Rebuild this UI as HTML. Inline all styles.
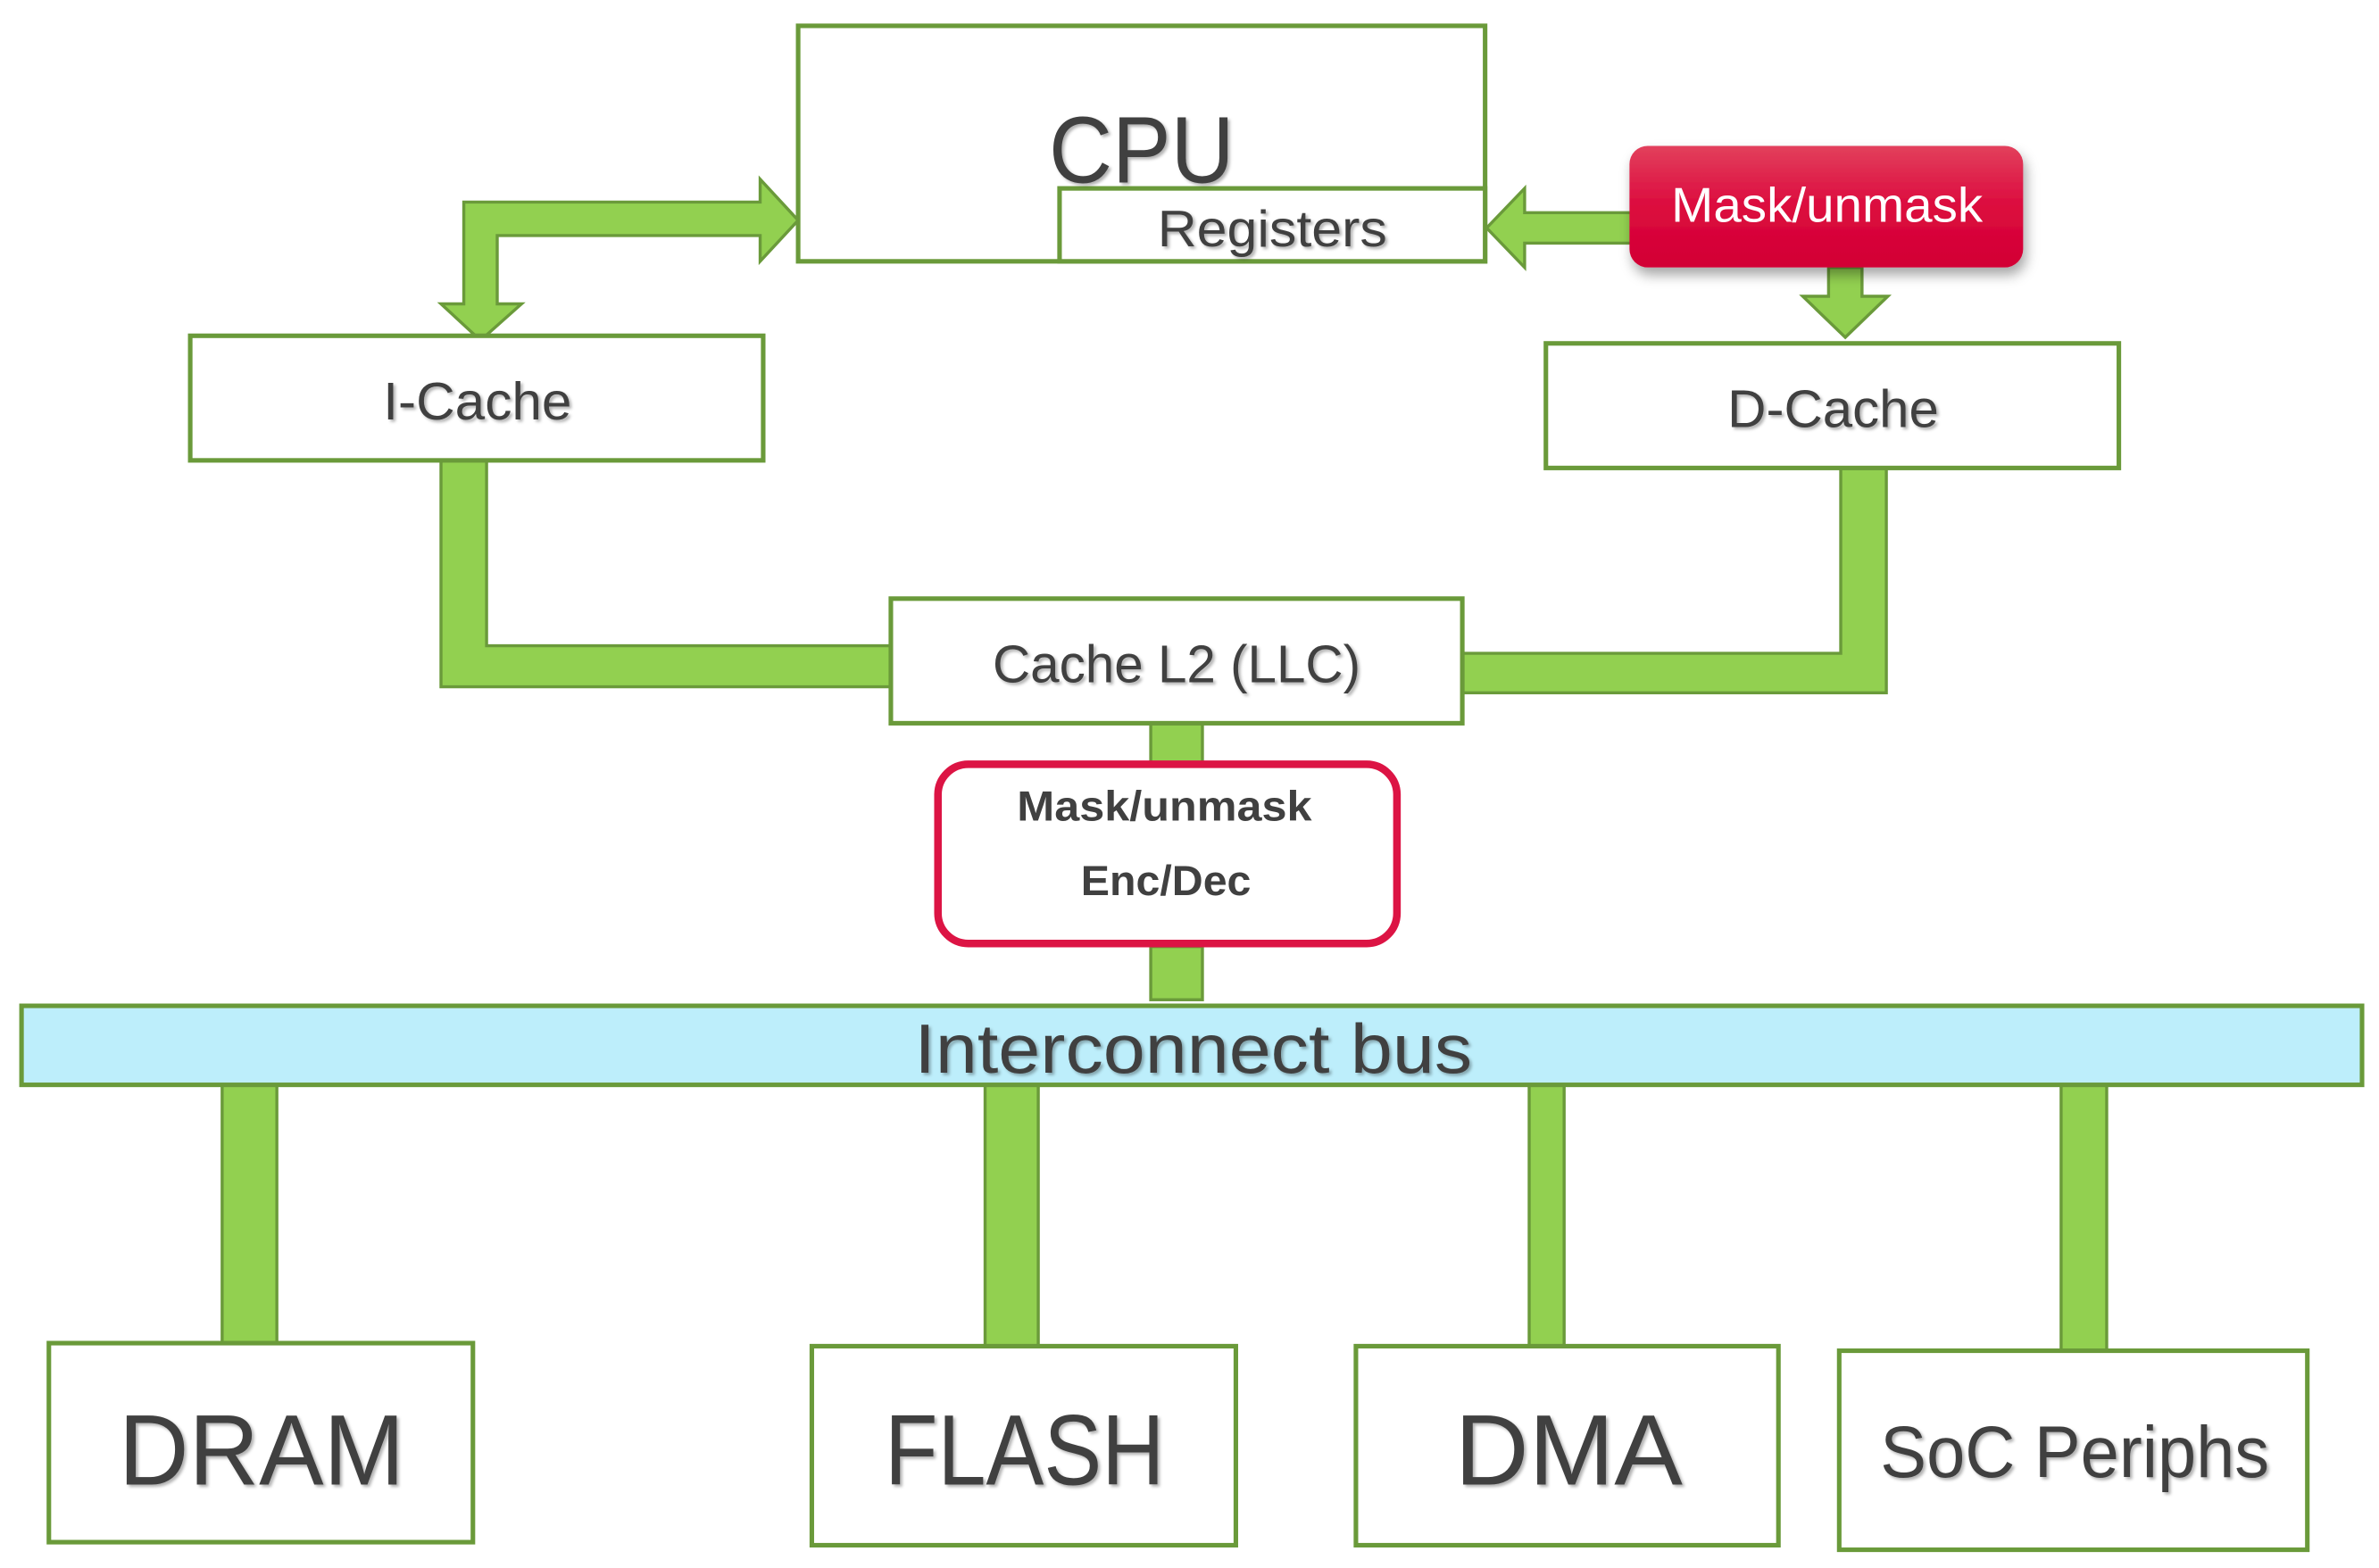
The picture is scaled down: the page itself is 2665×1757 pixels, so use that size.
<!DOCTYPE html>
<html><head><meta charset="utf-8"><style>
html,body{margin:0;padding:0;background:#fff;}
svg{display:block;}
text{font-family:"Liberation Sans",sans-serif;fill:#404040;}
</style></head><body>
<svg width="2665" height="1757" viewBox="0 0 1565 1032" xmlns="http://www.w3.org/2000/svg">
<defs>
<linearGradient id="rg" x1="0" y1="0" x2="0" y2="1">
<stop offset="0" stop-color="#e2405c"/><stop offset="0.5" stop-color="#dc0a3e"/><stop offset="1" stop-color="#d20034"/>
</linearGradient>
<filter id="sh" x="-10%" y="-20%" width="130%" height="160%"><feDropShadow dx="2" dy="5" stdDeviation="4" flood-color="#000" flood-opacity="0.35"/></filter>
<filter id="ts"><feDropShadow dx="1.5" dy="1.5" stdDeviation="1" flood-color="#000" flood-opacity="0.3"/></filter>
</defs>
<g fill="#92d050" stroke="#6a9a3a" stroke-width="2">
<!-- I-Cache double arrow -->
<polygon points="525,145 500,118 500,133 305,133 305,200 290,200 316,224 343,200 327,200 327,155 500,155 500,172"/>
<!-- left arrow to registers -->
<polygon points="978,150 1003,124 1003,140 1074,140 1074,160 1003,160 1003,176"/>
<!-- down arrow to D-cache -->
<polygon points="1203,176 1225,176 1225,195 1242,195 1214,222 1186,195 1203,195"/>
<!-- L2 connectors -->
<polygon points="290,303 320,303 320,425 586,425 586,452 290,452"/>
<polygon points="1211,308 1241,308 1241,456 962,456 962,430 1211,430"/>
<rect x="757" y="476" width="34" height="27"/>
<rect x="757" y="623" width="34" height="35"/>
<rect x="146" y="714" width="36" height="170"/>
<rect x="648" y="714" width="35" height="172"/>
<rect x="1006" y="714" width="23" height="172"/>
<rect x="1356" y="714" width="30" height="175"/>
</g>
<g fill="#fff" stroke="#6a9a3a" stroke-width="3">
<rect x="525" y="17" width="452" height="155"/>
<rect x="697" y="124" width="280" height="48"/>
<rect x="125" y="221" width="377" height="82"/>
<rect x="1017" y="226" width="377" height="82"/>
<rect x="586" y="394" width="376" height="82"/>
<rect x="14" y="662" width="1540" height="52" fill="#bdeefb"/>
<rect x="32" y="884" width="279" height="131"/>
<rect x="534" y="886" width="279" height="131"/>
<rect x="892" y="886" width="278" height="131"/>
<rect x="1210" y="889" width="308" height="131"/>
</g>
<rect x="1072" y="96" width="259" height="80" rx="12" fill="url(#rg)" filter="url(#sh)"/>
<rect x="617" y="503" width="302" height="118" rx="20" fill="#fff" stroke="#dc1444" stroke-width="5"/>
<g text-anchor="middle" filter="url(#ts)">
<text x="751" y="120" font-size="62" textLength="122" lengthAdjust="spacingAndGlyphs">CPU</text>
<text x="837" y="162" font-size="34" textLength="151" lengthAdjust="spacingAndGlyphs">Registers</text>
<text x="314" y="276" font-size="35" textLength="124" lengthAdjust="spacingAndGlyphs">I-Cache</text>
<text x="1206" y="281" font-size="35" textLength="139" lengthAdjust="spacingAndGlyphs">D-Cache</text>
<text x="774" y="449" font-size="35" textLength="242" lengthAdjust="spacingAndGlyphs">Cache L2 (LLC)</text>
<text x="785" y="706" font-size="46" textLength="367" lengthAdjust="spacingAndGlyphs">Interconnect bus</text>
<text x="172" y="977" font-size="66" textLength="188" lengthAdjust="spacingAndGlyphs">DRAM</text>
<text x="674" y="977" font-size="66" textLength="184" lengthAdjust="spacingAndGlyphs">FLASH</text>
<text x="1032" y="977" font-size="66" textLength="150" lengthAdjust="spacingAndGlyphs">DMA</text>
<text x="1365" y="972" font-size="48" textLength="256" lengthAdjust="spacingAndGlyphs">SoC Periphs</text>
</g>
<g text-anchor="middle">
<text x="1202" y="146" font-size="32" fill="#fff" style="fill:#fff" textLength="205" lengthAdjust="spacingAndGlyphs">Mask/unmask</text>
<text x="766" y="540" font-size="28" font-weight="bold" textLength="194" lengthAdjust="spacingAndGlyphs">Mask/unmask</text>
<text x="767" y="589" font-size="28" font-weight="bold" textLength="112" lengthAdjust="spacingAndGlyphs">Enc/Dec</text>
</g>
</svg>
</body></html>
